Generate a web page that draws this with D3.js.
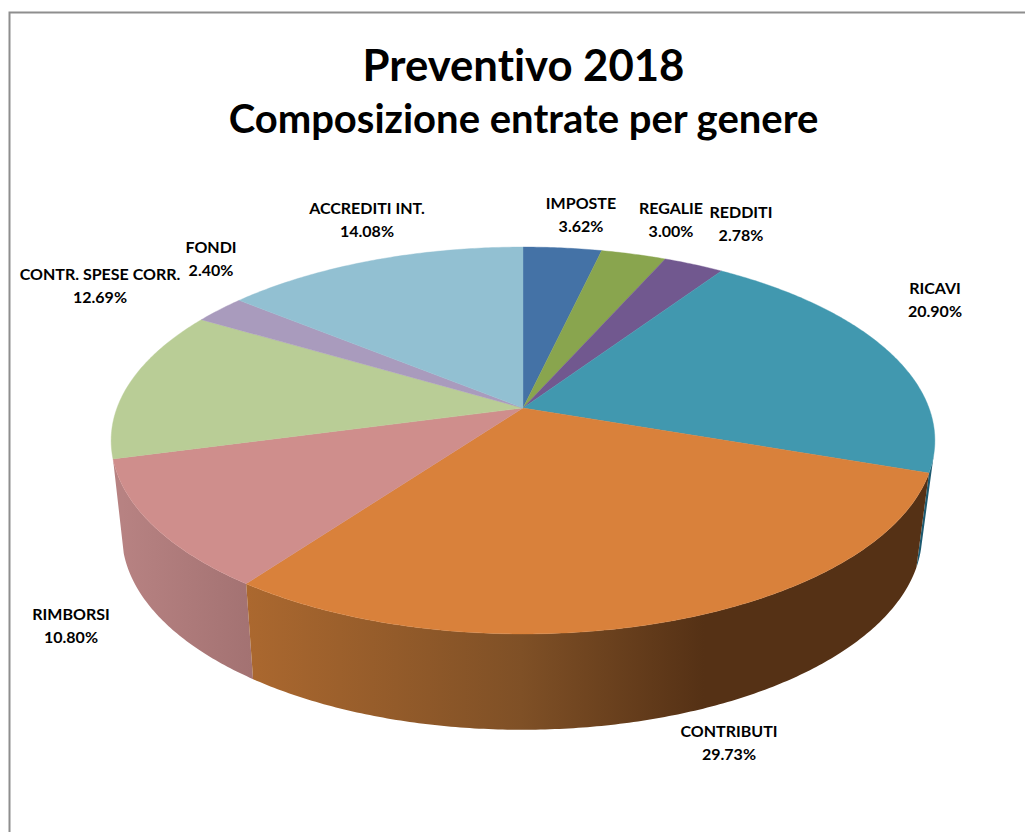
<!DOCTYPE html>
<html><head><meta charset="utf-8">
<script src="https://cdn.jsdelivr.net/npm/d3@7"></script>
<style>html,body{margin:0;padding:0;background:#fff;overflow:hidden}svg{display:block}text{font-family:Lato,"Open Sans",sans-serif;font-weight:700;fill:#000;text-anchor:middle;font-variant-ligatures:none;font-feature-settings:"liga" 0}</style>
</head><body><svg id="c" width="1025" height="832"></svg>
<script>
const categories=["IMPOSTE","REGALIE","REDDITI","RICAVI","CONTRIBUTI","RIMBORSI","CONTR. SPESE CORR.","FONDI","ACCREDITI INT."];
const shares=[3.62,3.00,2.78,20.90,29.73,10.80,12.69,2.40,14.08];
const titleLines=["Preventivo 2018","Composizione entrate per genere"];
const topColors=["#4472a6","#89a54e","#71588f","#4198af","#d9813b","#cf8e8c","#b9cd96","#a99bbd","#92c0d2"];

// layout
const labelAnchors=[[581,203],[671,208],[741,212],[935,288],[729,731],[71,614],[100,274],[211,247],[367,208]];
const k=0.168;
const topRim={cx:523,cy:408,A:406,B:188};
const lowRim={cx:522,cy:502,A:394.4,B:189.5};
const sideStart={3:1.80};      // the ricavi side only shows past the silhouette
const sideGradients={
  3:[[0,"#1d5a70"],[1,"#1d5a70"]],
  4:[[0,"#ab682f"],[0.6,"#7f5026"],[1,"#553115"]],
  5:[[0,"#b78282"],[1,"#a37272"]]
};
const sideExtents={3:[915,935],4:[247,704],5:[122,252]};

const svg=d3.select("#c");
function project(rim,a){
  const u=Math.sin(a),v=-Math.cos(a),d=1-k*v;
  return [rim.cx+rim.A*u/d,rim.cy+rim.B*v/d];
}
const slices=d3.pie().sort(null).value(d=>d).startAngle(0).endAngle(2*Math.PI)(shares);
const line=d3.line().curve(d3.curveLinear);
function arcPts(rim,a0,a1){
  const n=Math.max(2,Math.ceil((a1-a0)/0.01));
  return d3.range(n+1).map(i=>project(rim,a0+(a1-a0)*i/n));
}
const defs=svg.append("defs");
Object.keys(sideGradients).forEach(i=>{
  const g=defs.append("linearGradient").attr("id","side"+i).attr("gradientUnits","userSpaceOnUse")
    .attr("x1",sideExtents[i][0]).attr("x2",sideExtents[i][1]).attr("y1",0).attr("y2",0);
  sideGradients[i].forEach(s=>g.append("stop").attr("offset",s[0]).attr("stop-color",s[1]));
});

// frame
svg.append("path").attr("d","M9.5 832V12.5H1025").attr("fill","none").attr("stroke","#8e8e8e").attr("stroke-width",2);

// sides, back to front
[3,5,4].forEach(i=>{
  const s=slices[i],a0=sideStart[i]||s.startAngle,a1=s.endAngle;
  const pts=arcPts(topRim,a0,a1).concat(arcPts(lowRim,a0,a1).reverse());
  svg.append("path").attr("d",line(pts)+"Z").attr("fill","url(#side"+i+")");
});
// top faces
slices.forEach((s,i)=>{
  const pts=[[topRim.cx,topRim.cy]].concat(arcPts(topRim,s.startAngle,s.endAngle));
  svg.append("path").attr("d",line(pts)+"Z").attr("fill",topColors[i]).attr("stroke",topColors[i]).attr("stroke-width",0.4);
});
// titles
svg.append("text").attr("x",523.5).attr("y",81).attr("font-size",43.7).text(titleLines[0]);
svg.append("text").attr("x",523.5).attr("y",133).attr("font-size",40).text(titleLines[1]);
// labels
const fmt=d3.format(".2f");
categories.forEach((c,i)=>{
  const [x,y]=labelAnchors[i];
  svg.append("text").attr("x",x).attr("y",y+5.5).attr("font-size",16).text(c);
  svg.append("text").attr("x",x).attr("y",y+28.5).attr("font-size",16).text(fmt(shares[i])+"%");
});
</script></body></html>
